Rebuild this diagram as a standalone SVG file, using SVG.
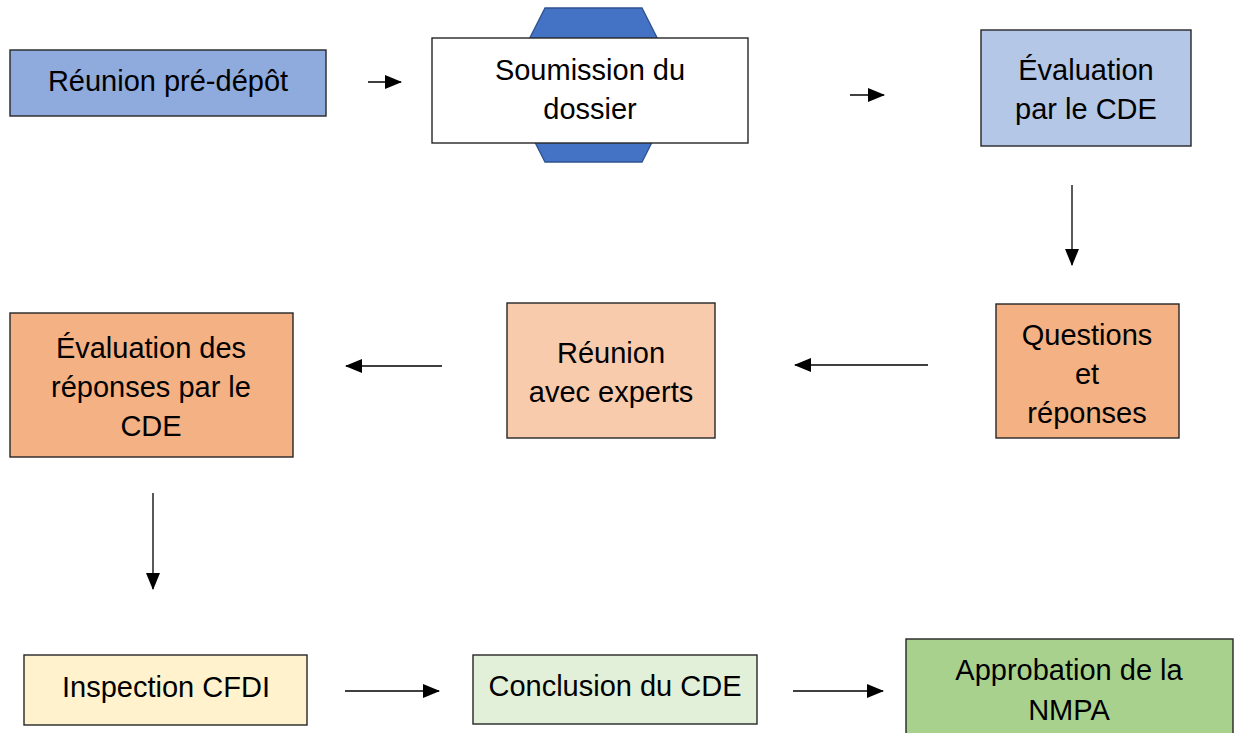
<svg xmlns="http://www.w3.org/2000/svg" width="1234" height="733" viewBox="0 0 1234 733">
<style>
  .box{stroke:#262626;stroke-width:1.4}
  .t{font-family:"Liberation Sans",Arial,sans-serif;font-size:29px;fill:#000;text-anchor:middle}
  .c{stroke:#000;stroke-width:1.3;fill:none;marker-end:url(#ah)}
</style>
<defs>
  <marker id="ah" markerUnits="userSpaceOnUse" markerWidth="17" markerHeight="14" refX="16" refY="7" orient="auto">
    <path d="M0,0 L17,7 L0,14 Z" fill="#000"/>
  </marker>
</defs>
<rect width="1234" height="733" fill="#fff"/>

<g id="n1">
  <rect class="box" x="10" y="50" width="316" height="66" fill="#8FAADC"/>
  <text class="t" x="168" y="91">Réunion pré-dépôt</text>
</g>
<g id="n2">
  <polygon points="545,8 642,8 681,85 642,162 545,162 506,85" fill="#4472C4" stroke="#2F528F" stroke-width="1.3"/>
  <rect class="box" x="432" y="38" width="316" height="105" fill="#fff"/>
  <text class="t" x="590" y="80">Soumission du</text>
  <text class="t" x="590" y="119">dossier</text>
</g>
<g id="n3">
  <rect class="box" x="981" y="30" width="210" height="116" fill="#B4C7E7"/>
  <text class="t" x="1086" y="80">Évaluation</text>
  <text class="t" x="1086" y="119">par le CDE</text>
</g>
<g id="n4">
  <rect class="box" x="996" y="304" width="183" height="134" fill="#F4B183"/>
  <text class="t" x="1087" y="345">Questions</text>
  <text class="t" x="1087" y="384">et</text>
  <text class="t" x="1087" y="423">réponses</text>
</g>
<g id="n5">
  <rect class="box" x="507" y="303" width="208" height="135" fill="#F8CBAD"/>
  <text class="t" x="611" y="363">Réunion</text>
  <text class="t" x="611" y="402">avec experts</text>
</g>
<g id="n6">
  <rect class="box" x="10" y="313" width="283" height="144" fill="#F4B183"/>
  <text class="t" x="151" y="358">Évaluation des</text>
  <text class="t" x="151" y="397">réponses par le</text>
  <text class="t" x="151" y="436">CDE</text>
</g>
<g id="n7">
  <rect class="box" x="24" y="655" width="283" height="70" fill="#FFF2CC"/>
  <text class="t" x="166" y="697">Inspection CFDI</text>
</g>
<g id="n8">
  <rect class="box" x="473" y="655" width="284" height="69" fill="#E2F0D9"/>
  <text class="t" x="615" y="696">Conclusion du CDE</text>
</g>
<g id="n9">
  <rect class="box" x="906" y="639" width="327" height="110" fill="#A9D18E"/>
  <text class="t" x="1069" y="680">Approbation de la</text>
  <text class="t" x="1069" y="720">NMPA</text>
</g>

<g id="connectors">
  <line class="c" x1="368" y1="82" x2="401" y2="82"/>
  <line class="c" x1="850" y1="95" x2="884" y2="95"/>
  <line class="c" x1="1072" y1="185" x2="1072" y2="265"/>
  <line class="c" x1="928" y1="365" x2="795" y2="365"/>
  <line class="c" x1="442" y1="366" x2="346" y2="366"/>
  <line class="c" x1="153" y1="493" x2="153" y2="589"/>
  <line class="c" x1="345" y1="691" x2="439" y2="691"/>
  <line class="c" x1="793" y1="691" x2="883" y2="691"/>
</g>
</svg>
